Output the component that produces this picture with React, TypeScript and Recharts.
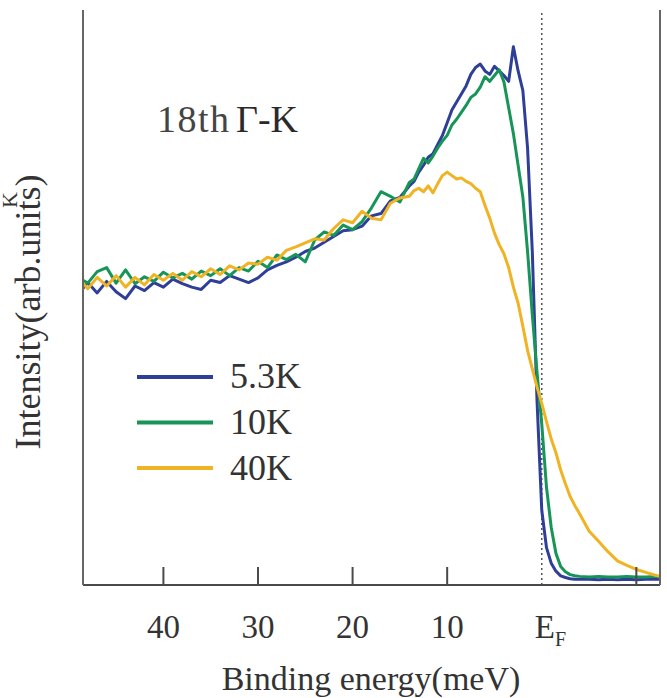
import { Legend, Line, LineChart, ReferenceLine, XAxis, YAxis } from "recharts";

// binding energy in meV (positive = below E_F)
const ENERGY = [
  48.5, 48, 47, 46, 45, 44, 43, 42, 41, 40, 39, 38, 37, 36, 35, 34, 33, 32, 31, 30,
  29, 28, 27, 26, 25, 24, 23, 22, 21, 20, 19, 18, 17, 16, 15, 14,
  13.5, 13, 12.5, 12, 11.5, 11, 10.5, 10, 9.5, 9, 8.5, 8, 7.5, 7, 6.5, 6, 5.5, 5,
  4.5, 4, 3.5, 3, 2.5, 2, 1.5, 1, 0.5, 0, -0.5, -1, -1.5, -2, -2.5, -3, -3.5, -4,
  -5, -6, -7, -8, -9, -10, -11, -12, -12.5,
];

const T_5_3K = [
  51.6, 52.6, 50.8, 52.8, 51, 49.8, 52, 51.2, 52.6, 51.8, 53.2, 52.4, 51.8, 51.4, 53, 52.6, 53.8, 53.2, 52.6, 53.4,
  54.8, 55.6, 56.2, 57, 58, 58.6, 59.6, 60.6, 61.6, 61.8, 62.4, 64.2, 64.6, 66.8, 67.4, 69.4,
  70.2, 71.8, 73, 74.4, 75, 76.6, 78.2, 80.4, 82.6, 84, 85.4, 86.8, 88.8, 90, 90.6, 89.4, 88.8, 90.2,
  89.4, 88.6, 87.6, 93.6, 89.4, 86, 76, 58, 32, 13, 6.5, 3.8, 2.4, 1.6, 1.3, 1.1, 1.0, 1.0,
  1.0, 0.9, 1.0, 0.9, 1.0, 0.9, 1.0, 1.0, 1.0,
];

const T_10K = [
  53, 52.5, 54.5, 55.2, 52.5, 54.8, 52.4, 53.6, 52.8, 54.4, 53.4, 54.2, 53.2, 54.6, 53.8, 55, 53.8, 55.2, 54.6, 56.3,
  55.2, 57.4, 56.6, 57.5, 56.2, 60, 61.4, 60.8, 62.6, 61.8, 63.2, 65.6, 68.4, 67.6, 66.6, 70,
  70.6, 72.4, 74.2, 73.4, 74.6, 76, 77.2, 78.2, 80, 81, 82.2, 83.4, 84.8, 85.4, 86.6, 88.4, 87.6, 88.6,
  89.6, 87.5, 83, 78.5, 73, 67.5, 58, 47, 37, 28, 17, 10, 5.5, 3.2, 2.3, 1.8, 1.6, 1.5,
  1.4, 1.5, 1.4, 1.4, 1.5, 1.4, 1.4, 1.5, 1.4,
];

const T_40K = [
  52.5, 51.5, 53.5, 52, 53.8, 51.8, 53.5, 52.2, 54, 53, 54.2, 53, 54.5, 53.6, 55, 54, 55.5, 54.8, 56, 55.8,
  57, 56.5, 58.2, 58.8, 59.5, 60.2, 60, 62, 63.5, 63, 65, 63.8, 63.5, 66.4, 67.3, 67.6,
  68.6, 69, 68.4, 69.4, 68.2, 69.8, 71.2, 71.8, 71.2, 70.6, 70.8, 70.2, 69.8, 69, 68.4, 66, 63.8, 61.2,
  59.2, 57.6, 55.2, 51.8, 49, 45, 40.8, 37.6, 34.4, 31.6, 28.4, 25.4, 23, 20, 17.6, 15.4, 13.8, 12.4,
  9.4, 7.6, 5.8, 4.2, 3.4, 2.7, 2.2, 1.7, 1.5,
];

const X_TICKS = [40, 30, 20, 10, 0, -10];

const SERIES = [
  { key: "k5", name: "5.3K", color: "#2f3f98" },
  { key: "k10", name: "10K", color: "#179559" },
  { key: "k40", name: "40K", color: "#efb324" },
];

const FONT = "'Liberation Serif', 'DejaVu Serif', Times, serif";
const FRAME = "#4a4a4a";
const INK = "#333";
const serif = { fontFamily: FONT };

const data = ENERGY.map((e, i) => ({ e, k5: T_5_3K[i], k10: T_10K[i], k40: T_40K[i] }));

function BottomTick({ x, y, payload }: any) {
  const v = payload.value;
  return (
    <g>
      {v !== 0 && <line x1={x} x2={x} y1={y} y2={y - 18} stroke={FRAME} strokeWidth={2} />}
      {v === 0 ? (
        <text x={x - 7} y={y + 53} style={serif} fontSize={33} fill={INK}>
          E<tspan dy={8} fontSize={20}>F</tspan>
        </text>
      ) : v > 0 ? (
        <text x={x} y={y + 53} textAnchor="middle" style={serif} fontSize={33} fill={INK}>
          {v}
        </text>
      ) : null}
    </g>
  );
}

function TopTick({ x, y }: any) {
  return <line x1={x} x2={x} y1={y} y2={y + 20} stroke={FRAME} strokeWidth={2} />;
}

function LegendBox() {
  return (
    <svg width={220} height={150}>
      {SERIES.map((s, i) => (
        <g key={s.key}>
          <line x1={0} x2={76} y1={37 + i * 45.5} y2={37 + i * 45.5} stroke={s.color} strokeWidth={4} />
          <text x={93} y={48 + i * 46} style={serif} fontSize={36} fill={INK}>
            {s.name}
          </text>
        </g>
      ))}
    </svg>
  );
}

export default function App() {
  return (
    <div style={{ position: "absolute", left: 0, top: 0, width: 667, height: 698, background: "#fff", ...serif }}>
      <LineChart width={667} height={698} data={data} margin={{ top: 10, right: 0, bottom: 0, left: 0 }}>
        <XAxis
          dataKey="e"
          type="number"
          domain={[-12.5, 48.5]}
          reversed
          ticks={X_TICKS}
          interval={0}
          height={113}
          tickSize={0}
          tickMargin={0}
          tickLine={false}
          tick={<BottomTick />}
          axisLine={{ stroke: FRAME, strokeWidth: 2 }}
        />
        <XAxis
          xAxisId="top"
          orientation="top"
          dataKey="e"
          type="number"
          domain={[-12.5, 48.5]}
          reversed
          ticks={X_TICKS}
          interval={0}
          height={0}
          tickSize={0}
          tickMargin={0}
          tickLine={false}
          tick={<TopTick />}
          axisLine={{ stroke: FRAME, strokeWidth: 2 }}
        />
        <YAxis domain={[0, 100]} width={83} tick={false} tickLine={false} axisLine={{ stroke: "#666", strokeWidth: 2 }} />
        <YAxis
          yAxisId="right"
          orientation="right"
          domain={[0, 100]}
          width={7}
          tick={false}
          tickLine={false}
          axisLine={{ stroke: "#666", strokeWidth: 2 }}
        />
        <ReferenceLine x={0} stroke="#555" strokeWidth={1.5} strokeDasharray="2 3" />
        {SERIES.map((s) => (
          <Line
            key={s.key}
            type="linear"
            dataKey={s.key}
            name={s.name}
            stroke={s.color}
            strokeWidth={3}
            dot={false}
            strokeLinejoin="round"
            isAnimationActive={false}
          />
        ))}
        <Legend
          layout="vertical"
          align="center"
          verticalAlign="middle"
          content={<LegendBox />}
          wrapperStyle={{ left: 137, top: 340, width: 220, height: 150 }}
        />
      </LineChart>
      <svg
        width={667}
        height={698}
        style={{ position: "absolute", left: 0, top: 0, pointerEvents: "none", ...serif }}
        fill={INK}
      >
        <text x={157} y={132} fontSize={38} letterSpacing={1.5} fill="#444">
          18th
        </text>
        <text x={236} y={132} fontSize={38} fill="#2a2a2a">
          Γ-K
        </text>
        <text transform="translate(40,312) rotate(-90)" textAnchor="middle" fontSize={36}>
          Intensity(arb.units)
        </text>
        <text transform="translate(17,208) rotate(-90)" fontSize={22}>
          K
        </text>
        <text x={371} y={690} textAnchor="middle" fontSize={34}>
          Binding energy(meV)
        </text>
      </svg>
    </div>
  );
}
